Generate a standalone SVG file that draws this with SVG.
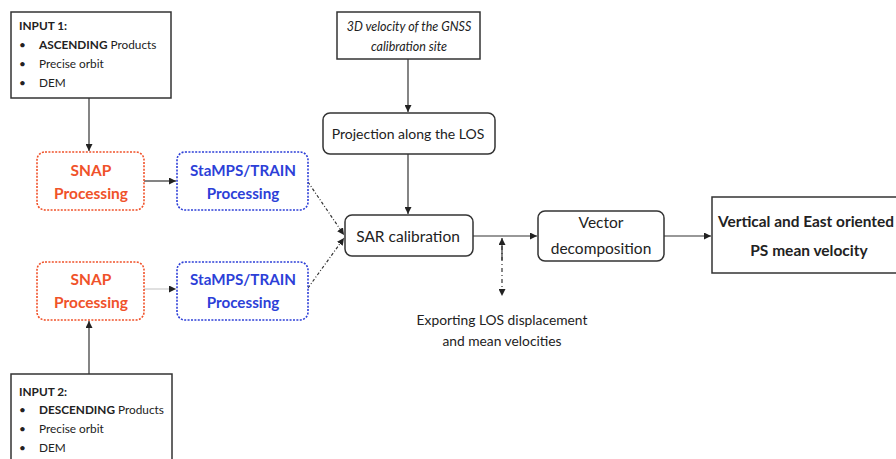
<svg xmlns="http://www.w3.org/2000/svg" width="896" height="459" viewBox="0 0 896 459">
<style>
text{font-family:Lato,"Liberation Sans",sans-serif;fill:#222}
.box{fill:#fff;stroke:#333;stroke-width:1.5}
.in{font-size:11.8px}
.b{font-weight:bold}
.snap{fill:#fff;stroke:#f0522a;stroke-width:1.6;stroke-dasharray:2 1.4}
.stamps{fill:#fff;stroke:#2d3fd8;stroke-width:1.6;stroke-dasharray:2 1.4}
.snapt{font-size:15.5px;font-weight:bold;fill:#f0522a;text-anchor:middle}
.stt{font-size:15.2px;font-weight:bold;fill:#2d3fd8;text-anchor:middle}
.mid{text-anchor:middle}
.ln{stroke:#333;stroke-width:1.2;fill:none}
</style>
<defs>
<marker id="ah" viewBox="0 0 10 10" refX="10" refY="5" markerWidth="7" markerHeight="7" markerUnits="userSpaceOnUse" orient="auto">
<path d="M0,0L10,5L0,10z" fill="#222"/>
</marker>
</defs>
<g id="connectors">
<line class="ln" x1="89" y1="98" x2="89" y2="151" marker-end="url(#ah)"/>
<line class="ln" x1="89" y1="374" x2="89" y2="321" marker-end="url(#ah)"/>
<line class="ln" x1="144" y1="181" x2="176" y2="181" marker-end="url(#ah)"/>
<line x1="144" y1="289" x2="176" y2="289" stroke="#ccc" stroke-width="1.2" marker-end="url(#ah)"/>
<line class="ln" x1="308" y1="182" x2="344" y2="235" stroke-dasharray="3 2 1 2" stroke-width="1" marker-end="url(#ah)"/>
<line class="ln" x1="308" y1="288" x2="344" y2="238" stroke-dasharray="3 2 1 2" stroke-width="1" marker-end="url(#ah)"/>
<line class="ln" x1="408" y1="59" x2="408" y2="112" marker-end="url(#ah)"/>
<line class="ln" x1="408" y1="154" x2="408" y2="214" marker-end="url(#ah)"/>
<line class="ln" x1="473" y1="236" x2="537" y2="236" marker-end="url(#ah)"/>
<line class="ln" x1="664" y1="236" x2="711" y2="236" marker-end="url(#ah)"/>
<line class="ln" x1="502" y1="260" x2="502" y2="238" marker-end="url(#ah)"/>
<line class="ln" x1="502" y1="246" x2="502" y2="296" stroke-dasharray="4 3 1 3" marker-end="url(#ah)"/>
</g>
<g id="input1">
<rect class="box" x="11" y="12" width="160" height="86"/>
<text class="in b" x="19" y="30">INPUT 1:</text>
<text class="in" x="19" y="49">•</text><text class="in" x="39" y="49"><tspan class="b">ASCENDING</tspan> Products</text>
<text class="in" x="19" y="68">•</text><text class="in" x="39" y="68">Precise orbit</text>
<text class="in" x="19" y="87">•</text><text class="in" x="39" y="87">DEM</text>
</g>
<g id="input2">
<rect class="box" x="11" y="374" width="161" height="95"/>
<text class="in b" x="19" y="396">INPUT 2:</text>
<text class="in" x="19" y="414">•</text><text class="in" x="39" y="414"><tspan class="b">DESCENDING</tspan> Products</text>
<text class="in" x="19" y="433">•</text><text class="in" x="39" y="433">Precise orbit</text>
<text class="in" x="19" y="452">•</text><text class="in" x="39" y="452">DEM</text>
</g>
<g id="snap1">
<rect class="snap" x="37" y="152" width="107" height="58" rx="8"/>
<text class="snapt" x="91" y="176">SNAP</text>
<text class="snapt" x="91" y="199">Processing</text>
</g>
<g id="stamps1">
<rect class="stamps" x="177" y="152" width="131" height="58" rx="8"/>
<text class="stt" x="243" y="176">StaMPS/TRAIN</text>
<text class="stt" x="243" y="199">Processing</text>
</g>
<g id="snap2">
<rect class="snap" x="37" y="262" width="107" height="58" rx="8"/>
<text class="snapt" x="91" y="285">SNAP</text>
<text class="snapt" x="91" y="308">Processing</text>
</g>
<g id="stamps2">
<rect class="stamps" x="177" y="262" width="131" height="58" rx="8"/>
<text class="stt" x="243" y="285">StaMPS/TRAIN</text>
<text class="stt" x="243" y="308">Processing</text>
</g>
<g id="gnss">
<rect class="box" x="337" y="12" width="143" height="47"/>
<text class="mid" x="409" y="31" font-size="12.5" font-style="italic">3D velocity of the GNSS</text>
<text class="mid" x="409" y="51" font-size="12.5" font-style="italic">calibration site</text>
</g>
<g id="projection">
<rect class="box" x="323" y="113" width="172" height="41" rx="7"/>
<text class="mid" x="408" y="139" font-size="14">Projection along the LOS</text>
</g>
<g id="sar">
<rect class="box" x="345" y="215" width="128" height="41" rx="7"/>
<text class="mid" x="408" y="242" font-size="15.5">SAR calibration</text>
</g>
<g id="vector">
<rect class="box" x="538" y="211" width="126" height="50" rx="7"/>
<text class="mid" x="601" y="228" font-size="15.5">Vector</text>
<text class="mid" x="601" y="254" font-size="15.5">decomposition</text>
</g>
<g id="result">
<rect class="box" x="712" y="197" width="200" height="76"/>
<text x="718" y="227" font-size="15.5" font-weight="bold" textLength="176" lengthAdjust="spacingAndGlyphs">Vertical and East oriented</text>
<text class="mid" x="809" y="256" font-size="15.5" font-weight="bold">PS mean velocity</text>
</g>
<g id="export-label">
<text class="mid" x="502" y="325" font-size="13.8">Exporting LOS displacement</text>
<text class="mid" x="502" y="346" font-size="13.8">and mean velocities</text>
</g>
</svg>
